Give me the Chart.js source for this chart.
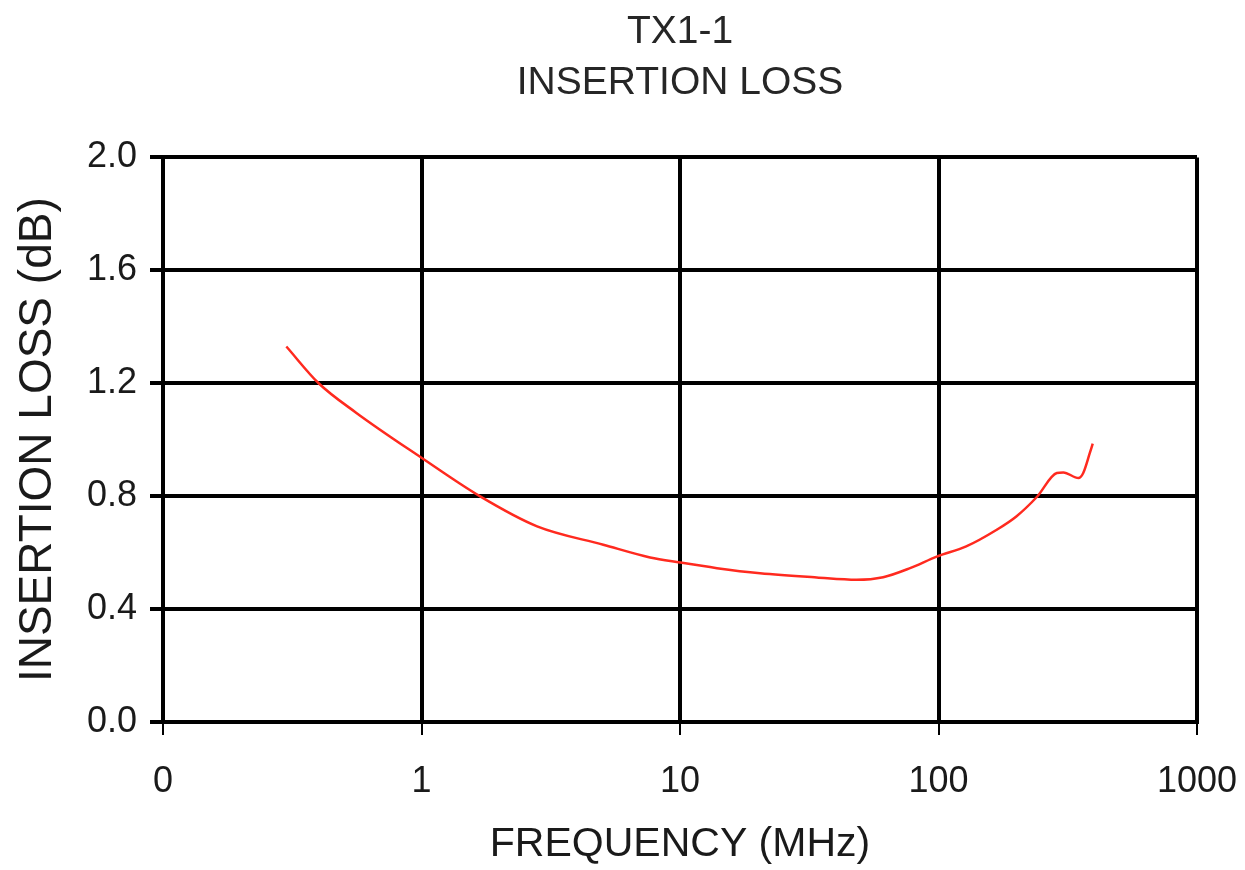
<!DOCTYPE html>
<html>
<head>
<meta charset="utf-8">
<script src="https://cdn.jsdelivr.net/npm/chart.js@4/dist/chart.umd.min.js"></script>
<style>
  body { margin: 0; background: #fff; }
  #holder { width: 1245px; height: 870px; }
</style>
</head>
<body>
<div id="holder"><canvas id="myChart" width="1245" height="870"></canvas></div>
<script>
// values
var freqMHz = [0.3, 0.4, 0.56, 1.0, 1.68, 2.8, 5.05, 7.66, 10, 13.9, 20.4, 33.8, 48.2, 61.1, 77.6, 98.4, 128, 168, 200, 240, 287, 304, 348, 363, 385, 395];
var lossDb = [1.33, 1.20, 1.095, 0.936, 0.80, 0.693, 0.628, 0.583, 0.565, 0.545, 0.527, 0.512, 0.504, 0.513, 0.545, 0.586, 0.622, 0.681, 0.728, 0.797, 0.882, 0.884, 0.864, 0.882, 0.953, 0.986];

var xTicks = [0.1, 1, 10, 100, 1000];
var xTickLabels = ['0', '1', '10', '100', '1000'];
var yTicks = [0, 0.4, 0.8, 1.2, 1.6, 2.0];

var points = freqMHz.map(function (f, i) {
    return { x: f, y: lossDb[i] };
});

var fontFamily = "'Liberation Sans', Arial, sans-serif";
var textColor = '#1a1a1a';

var config = {
    type: 'line',
    data: {
        datasets: [{
            label: 'Insertion loss',
            data: points,
            borderColor: '#ff2a1f',
            borderWidth: 2.5,
            pointRadius: 0,
            fill: false,
            cubicInterpolationMode: 'monotone'
        }]
    },
    options: {
        responsive: false,
        animation: false,
        layout: {
            padding: { left: 0, right: 48, top: 7, bottom: 0 }
        },
        plugins: {
            legend: { display: false },
            tooltip: { enabled: false },
            title: {
                display: true,
                fullSize: false,
                text: ['TX1-1', 'INSERTION LOSS'],
                color: '#262626',
                font: { family: fontFamily, size: 39, weight: 'normal', lineHeight: 1.3 },
                padding: { top: 0, bottom: 49 }
            }
        },
        scales: {
            x: {
                type: 'logarithmic',
                min: 0.1,
                max: 1000,
                afterBuildTicks: function (scale) {
                    scale.ticks = xTicks.map(function (v) { return { value: v }; });
                },
                afterFit: function (scale) {
                    scale.height = 148;
                    scale.paddingLeft = 0;
                    scale.paddingRight = 0;
                },
                ticks: {
                    color: textColor,
                    font: { family: fontFamily, size: 36 },
                    padding: 25,
                    maxRotation: 0,
                    autoSkip: false,
                    callback: function (value) {
                        var i = xTicks.indexOf(value);
                        return i >= 0 ? xTickLabels[i] : '';
                    }
                },
                grid: {
                    color: '#000',
                    lineWidth: 4,
                    tickLength: 13,
                    tickWidth: 2
                },
                border: { color: '#000', width: 4 },
                title: {
                    display: true,
                    text: 'FREQUENCY (MHz)',
                    color: textColor,
                    font: { family: fontFamily, size: 41, lineHeight: 1.2 },
                    padding: { top: 0, bottom: 1 }
                }
            },
            y: {
                min: 0,
                max: 2,
                afterBuildTicks: function (scale) {
                    scale.ticks = yTicks.map(function (v) { return { value: v }; });
                },
                afterFit: function (scale) {
                    scale.width = 163;
                },
                ticks: {
                    color: textColor,
                    font: { family: fontFamily, size: 36 },
                    padding: 13,
                    callback: function (value) {
                        return value.toFixed(1);
                    }
                },
                grid: {
                    color: '#000',
                    lineWidth: 4,
                    tickLength: 13
                },
                border: { color: '#000', width: 4 },
                title: {
                    display: true,
                    text: 'INSERTION LOSS (dB)',
                    color: textColor,
                    font: { family: fontFamily, size: 46, lineHeight: 1.2 },
                    padding: { top: 11, bottom: 0 }
                }
            }
        }
    }
};

var myChart = new Chart(document.getElementById('myChart'), config);
</script>
</body>
</html>
